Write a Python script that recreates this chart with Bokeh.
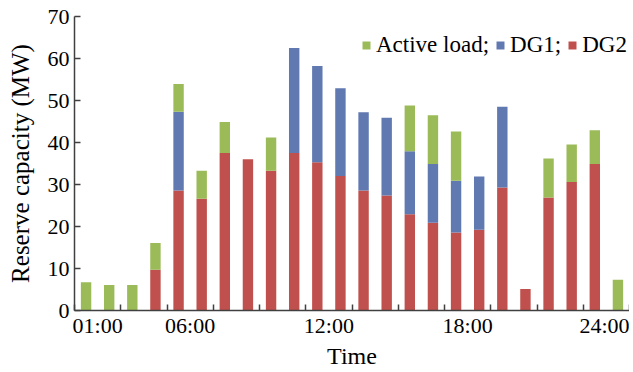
from bokeh.plotting import figure
from bokeh.models import (ColumnDataSource, FixedTicker, Legend, LegendItem, Range1d)
from bokeh.embed import file_html
from bokeh.resources import INLINE

# ---- data ----
hours = list(range(1, 25))
dg2 = [0, 0, 0, 9.7, 28.6, 26.6, 37.5, 36.0, 33.3, 37.5, 35.3, 32.0,
       28.6, 27.4, 22.9, 20.9, 18.6, 19.2, 29.3, 5.1, 26.9, 30.6, 34.9, 0]
dg1 = [0, 0, 0, 0, 18.7, 0, 0, 0, 0, 25.0, 22.9, 20.9,
       18.6, 18.5, 15.0, 14.0, 12.3, 12.7, 19.2, 0, 0, 0, 0, 0]
active_load = [6.7, 6.1, 6.1, 6.4, 6.6, 6.7, 7.4, 0, 7.9, 0, 0, 0,
               0, 0, 10.9, 11.6, 11.7, 0, 0, 0, 9.3, 8.9, 8.0, 7.3]
tick_positions = [1.5, 5.5, 11.5, 17.5, 23.5]
tick_labels = ["01:00", "06:00", "12:00", "18:00", "24:00"]
minor_tick_positions = [0.5 + 2 * i for i in range(13)]
y_ticks = [0, 10, 20, 30, 40, 50, 60, 70]

series = ["dg2", "dg1", "active"]
colors = ["#C0504D", "#6079B1", "#9BBB59"]
names = {"active": "Active load;", "dg1": "DG1;", "dg2": "DG2"}

source = ColumnDataSource(dict(x=hours, dg2=dg2, dg1=dg1, active=active_load))

FONT = "Liberation Serif"

p = figure(width=629, height=373, output_backend="svg", toolbar_location=None,
           x_range=Range1d(0.5, 24.5), y_range=Range1d(0, 70),
           min_border_left=74, min_border_right=0, min_border_top=16,
           min_border_bottom=63)

renderers = p.vbar_stack(series, x="x", width=0.45, source=source,
                         color=colors, line_color=None)
rmap = dict(zip(series, renderers))

p.xgrid.grid_line_color = None
p.ygrid.grid_line_color = None
p.outline_line_color = None
p.background_fill_color = "white"

# x axis
xa = p.xaxis[0]
xa.ticker = FixedTicker(ticks=tick_positions, minor_ticks=minor_tick_positions)
xa.major_label_overrides = {t: l for t, l in zip(tick_positions, tick_labels)}
xa.major_tick_in = 0
xa.major_tick_out = 0
xa.minor_tick_in = 6
xa.minor_tick_out = 0
xa.minor_tick_line_color = "#404040"
xa.minor_tick_line_width = 1.5
xa.axis_line_color = "#404040"
xa.axis_line_width = 1.5
xa.major_label_text_font = FONT
xa.major_label_text_font_size = "22px"
xa.major_label_text_color = "black"
xa.major_label_standoff = 2
xa.axis_label = "Time"
xa.axis_label_text_font = FONT
xa.axis_label_text_font_size = "24px"
xa.axis_label_text_font_style = "normal"
xa.axis_label_text_color = "black"
xa.axis_label_standoff = 2

# y axis
ya = p.yaxis[0]
ya.ticker = FixedTicker(ticks=y_ticks, minor_ticks=[])
ya.major_tick_in = 6
ya.major_tick_out = 0
ya.major_tick_line_color = "#404040"
ya.major_tick_line_width = 1.5
ya.axis_line_color = "#404040"
ya.axis_line_width = 1.5
ya.major_label_text_font = FONT
ya.major_label_text_font_size = "22px"
ya.major_label_text_color = "black"
ya.major_label_standoff = 5
ya.axis_label = "Reserve capacity (MW)"
ya.axis_label_text_font = FONT
ya.axis_label_text_font_size = "25px"
ya.axis_label_text_font_style = "normal"
ya.axis_label_text_color = "black"
ya.axis_label_standoff = 11

# legend
items = [LegendItem(label=names[s], renderers=[rmap[s]]) for s in ["active", "dg1", "dg2"]]
legend = Legend(items=items, orientation="horizontal", location=(287, 252),
                glyph_width=10, glyph_height=10, label_standoff=5, spacing=6,
                padding=0, margin=0, border_line_color=None,
                background_fill_alpha=0, label_text_font=FONT,
                label_text_font_size="23px", label_text_color="black")
p.add_layout(legend, "center")

open("out.html", "w").write(file_html(p, INLINE))
